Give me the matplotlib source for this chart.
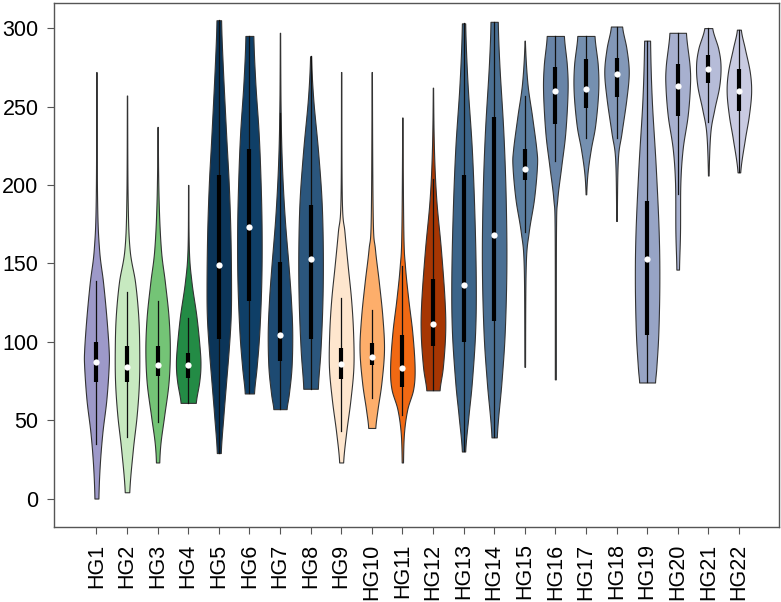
import numpy as np
import matplotlib
matplotlib.use('Agg')
import matplotlib.pyplot as plt

plt.rcParams['font.family'] = ['Liberation Sans', 'DejaVu Sans']

groups = ['HG%d' % i for i in range(1, 23)]
colors = ['#9d99c9', '#c7e9c0', '#74c476', '#238b45', '#0b3559', '#0f3f67', '#1d4a72', '#2b567d',
          '#fee6ce', '#fdae6b', '#f16913', '#a63603', '#3b6489', '#4a6f93', '#5b7ea0', '#6884a7',
          '#7590b0', '#8398b8', '#97a4c5', '#a7b0cf', '#b6bcd8', '#c9cbe2']

medians = [87, 84, 85, 85, 149, 173, 104, 153, 86, 90, 83, 111,
           136, 168, 210, 260, 261, 271, 153, 263, 274, 260]
q1 = [74, 74, 78, 77, 102, 126, 88, 102, 76, 85, 71, 97,
      100, 113, 203, 239, 249, 256, 104, 244, 265, 247]
q3 = [100, 97, 97, 93, 206, 223, 151, 187, 96, 99, 104, 140,
      206, 243, 223, 275, 280, 281, 190, 277, 283, 274]
whisk_lo = [35, 39, 49, 61, 29, 67, 57, 70, 43, 64, 53, 69,
            30, 39, 170, 215, 230, 230, 74, 194, 240, 208]
whisk_hi = [139, 132, 126, 115, 305, 295, 246, 282, 128, 120, 148, 204,
            303, 304, 257, 295, 295, 301, 292, 297, 300, 299]

# outline of each violin: values and half widths
prof_vals = [
    [0, 21, 42, 63, 84, 95, 116, 138, 159, 191, 272],
    [4, 31, 53, 74, 95, 116, 138, 159, 191, 257],
    [23, 36, 53, 74, 95, 116, 138, 159, 191, 237],
    [61, 74, 84, 95, 116, 138, 159, 200],
    [29, 53, 74, 95, 116, 138, 170, 201, 233, 276, 305],
    [67, 84, 106, 138, 170, 201, 233, 265, 295],
    [57, 67, 84, 106, 127, 148, 180, 212, 246, 297],
    [70, 95, 127, 159, 191, 223, 255, 282],
    [23, 42, 63, 84, 106, 127, 148, 170, 191, 272],
    [45, 57, 74, 95, 116, 138, 159, 180, 272],
    [23, 42, 57, 70, 84, 106, 127, 148, 170, 243],
    [69, 84, 106, 127, 159, 191, 223, 262],
    [30, 53, 74, 106, 138, 180, 223, 265, 303],
    [39, 74, 106, 148, 191, 233, 276, 304],
    [84, 148, 170, 191, 212, 223, 244, 265, 292],
    [76, 170, 191, 212, 233, 259, 276, 295],
    [194, 208, 223, 238, 259, 276, 295],
    [177, 216, 233, 255, 272, 287, 301],
    [74, 84, 106, 138, 170, 212, 255, 292],
    [146, 170, 201, 223, 244, 263, 276, 297],
    [206, 233, 248, 263, 276, 287, 300],
    [208, 229, 244, 259, 272, 287, 299],
]
prof_widths = [
    [6, 10, 18, 30, 37, 37, 30, 20, 8, 2, 0.5],
    [7, 18, 30, 37, 38, 35, 25, 8, 2, 0.5],
    [5, 9, 20, 33, 37, 33, 22, 10, 3, 0.5],
    [23, 33, 37, 35, 25, 10, 2, 0.5],
    [6, 14, 22, 30, 36, 37, 35, 30, 22, 12, 7],
    [14, 22, 30, 36, 37, 34, 28, 18, 12],
    [20, 27, 35, 37, 33, 26, 14, 6, 2, 0.5],
    [22, 30, 36, 37, 33, 22, 8, 1.5],
    [6, 15, 28, 37, 36, 30, 20, 10, 2, 0.5],
    [11, 18, 30, 38, 33, 22, 10, 3, 0.5],
    [2, 5, 15, 33, 37, 30, 18, 8, 3, 0.5],
    [20, 30, 37, 35, 24, 10, 3, 0.5],
    [5, 15, 25, 35, 37, 33, 25, 12, 5],
    [8, 22, 32, 37, 35, 28, 16, 11],
    [1, 3, 12, 28, 37, 35, 22, 8, 0.5],
    [1.5, 2, 6, 18, 30, 37, 35, 26],
    [1, 5, 15, 28, 37, 36, 26],
    [1, 4, 15, 30, 37, 30, 17],
    [24, 28, 34, 37, 35, 26, 14, 9],
    [4, 7, 8, 15, 30, 37, 36, 25],
    [1, 6, 18, 33, 37, 30, 12],
    [4, 18, 30, 37, 33, 18, 6],
]


def smooth_outline(y, w, n=12):
    # catmull-rom through the read points, only to round off the drawn edge
    yp = np.concatenate([[2 * y[0] - y[1]], y, [2 * y[-1] - y[-2]]])
    wp = np.concatenate([[w[0]], w, [w[-1]]])
    ys, ws = [], []
    for k in range(1, len(yp) - 2):
        t = np.linspace(0, 1, n, endpoint=False)
        for arr, out in ((yp, ys), (wp, ws)):
            p0, p1, p2, p3 = arr[k - 1], arr[k], arr[k + 1], arr[k + 2]
            out.extend(0.5 * (2 * p1 + (-p0 + p2) * t + (2 * p0 - 5 * p1 + 4 * p2 - p3) * t ** 2
                              + (-p0 + 3 * p1 - 3 * p2 + p3) * t ** 3))
    ys.append(y[-1])
    ws.append(w[-1])
    return np.array(ys), np.clip(np.array(ws), 0.003, None)


fig, ax = plt.subplots(figsize=(7.81, 6.02), dpi=100)
fig.subplots_adjust(left=0.069, right=0.997, bottom=0.125, top=0.995)

for i, g in enumerate(groups):
    y = np.array(prof_vals[i], dtype=float)
    w = np.array(prof_widths[i], dtype=float)
    w = w / w.max() * 0.4
    ys, ws = smooth_outline(y, w)
    ax.fill_betweenx(ys, i - ws, i + ws, facecolor=colors[i], edgecolor='#333333',
                     linewidth=0.8, zorder=2)
    ax.plot([i, i], [whisk_lo[i], whisk_hi[i]], color='#111111', lw=0.9, zorder=3)
    ax.plot([i, i], [q1[i], q3[i]], color='black', lw=3, solid_capstyle='butt', zorder=4)
    ax.plot(i, medians[i], 'o', color='white', markersize=4.5, markeredgewidth=0, zorder=5)

ax.set_xlim(-1.39, 22.3)
ax.set_ylim(-18, 316)
ax.set_xticks(range(len(groups)))
ax.set_xticklabels(groups, rotation=90, fontsize=15.5)
ax.set_yticks([0, 50, 100, 150, 200, 250, 300])
ax.tick_params(axis='y', labelsize=15.5, length=5, pad=6, color='#555555')
ax.tick_params(axis='x', length=5, pad=7, color='#555555')
for s in ax.spines.values():
    s.set_color('#555555')
    s.set_linewidth(1)

plt.savefig('out.png', dpi=100)
plt.close()
